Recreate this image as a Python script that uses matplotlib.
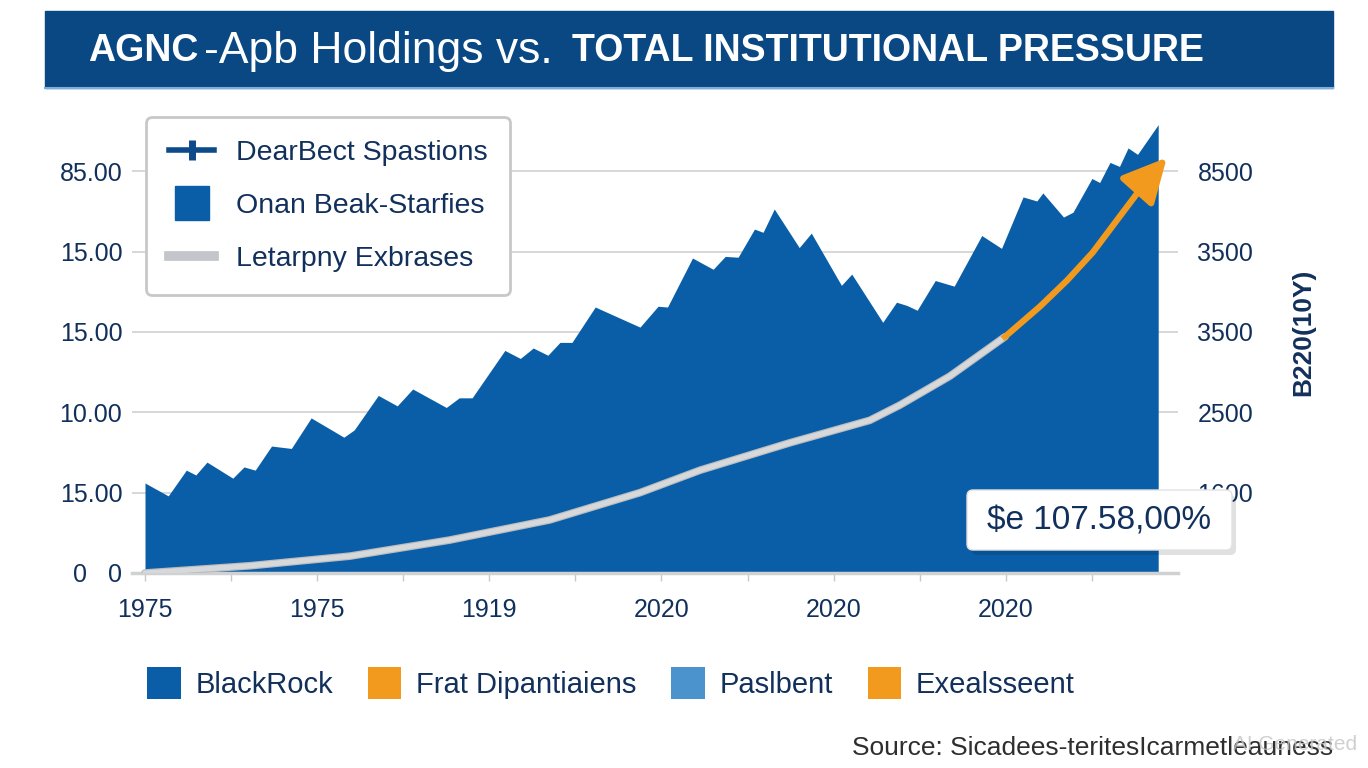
import numpy as np
import matplotlib.pyplot as plt
from matplotlib.lines import Line2D
from matplotlib.patches import Patch, Rectangle, FancyBboxPatch
from matplotlib.transforms import IdentityTransform

plt.rcParams['font.family'] = ['Liberation Sans', 'DejaVu Sans']

# holdings area (x = period index, y = gridline units)
area_x = [0.00, 0.27, 0.48, 0.59, 0.72, 1.02, 1.15, 1.28, 1.47, 1.70, 1.93, 2.31, 2.43,
          2.71, 2.93, 3.11, 3.50, 3.65, 3.80, 4.18, 4.36, 4.51, 4.68, 4.82, 4.96, 5.23,
          5.75, 5.96, 6.07, 6.36, 6.60, 6.74, 6.89, 7.08, 7.18, 7.31, 7.60, 7.74, 8.09,
          8.21, 8.57, 8.73, 8.85, 8.97, 9.18, 9.40, 9.72, 9.95, 10.20, 10.36, 10.43,
          10.67, 10.78, 11.00, 11.09, 11.21, 11.32, 11.42, 11.53, 11.77]
area_y = [1.12, 0.96, 1.28, 1.22, 1.38, 1.18, 1.32, 1.28, 1.58, 1.55, 1.93, 1.69, 1.78,
          2.21, 2.08, 2.29, 2.06, 2.18, 2.18, 2.77, 2.67, 2.80, 2.71, 2.87, 2.87, 3.31,
          3.06, 3.32, 3.31, 3.92, 3.78, 3.94, 3.93, 4.28, 4.24, 4.53, 4.05, 4.23, 3.58,
          3.72, 3.12, 3.37, 3.33, 3.27, 3.64, 3.57, 4.20, 4.04, 4.68, 4.63, 4.73,
          4.43, 4.49, 4.91, 4.86, 5.11, 5.06, 5.29, 5.21, 5.58]

# pressure curve (grey part, then orange surge)
trend_x = [0.00, 1.22, 2.38, 3.54, 4.70, 5.75, 6.45, 7.49, 8.42, 8.77, 9.35, 9.99]
trend_y = [0.00, 0.09, 0.21, 0.41, 0.66, 1.00, 1.28, 1.62, 1.90, 2.09, 2.45, 2.94]
surge_x = [9.99, 10.40, 10.71, 11.01, 11.29, 11.67]
surge_y = [2.94, 3.32, 3.64, 3.99, 4.39, 4.93]
surge_tip = (11.87, 5.17)

y_ticks = [0, 1, 2, 3, 4, 5]
left_labels = ["0   0", "15.00", "10.00", "15.00", "15.00", "85.00"]
right_labels = ["", "1600", "2500", "3500", "3500", "8500"]
x_ticks = list(range(12))
x_labels = ["1975", "", "1975", "", "1919", "", "2020", "", "2020", "", "2020", ""]

legend_labels = ["DearBect Spastions", "Onan Beak-Starfies", "Letarpny Exbrases"]
bottom_labels = ["BlackRock", "Frat Dipantiaiens", "Paslbent", "Exealsseent"]
bottom_colors = ["#0a5ea8", "#f29a1e", "#4a93cc", "#f29a1e"]

title_a = "AGNC"
title_b = "-Apb Holdings vs."
title_c = "TOTAL INSTITUTIONAL PRESSURE"
callout = "$e 107.58,00%"
right_title = "B220(10Y)"
source = "Source: Sicadees-teritesIcarmetleauness"

BLUE = "#0a5ea8"
NAVY = "#12305c"
GREY = "#d6d8da"
ORANGE = "#f29a1e"

W, H = 1368, 768
fig = plt.figure(figsize=(W / 100, H / 100), dpi=100)


def fx(px):
    return px / W


def fy(py):
    return 1 - py / H


# banner
fig.patches.append(Rectangle((fx(45), fy(88)), fx(1333) - fx(45), fy(11) - fy(88),
                             transform=fig.transFigure, color="#0a4884", zorder=1))
fig.lines.append(Line2D([fx(45), fx(1333)], [fy(88), fy(88)], transform=fig.transFigure,
                        color="#7aaedc", lw=1.5, zorder=2))
fig.text(fx(88), fy(51), title_a, color="white", size=27, weight="bold", va="center")
fig.text(fx(204), fy(51), title_b, color="white", size=32, va="center")
fig.text(fx(572), fy(51), title_c, color="white", size=27, weight="bold", va="center")

# main axes
ax = fig.add_axes([fx(132), fy(573), fx(1178) - fx(132), fy(115) - fy(573)])
ax.set_xlim(-0.151, 12.0)
ax.set_ylim(0, 5.70)
ax.set_axisbelow(True)
ax.grid(axis="y", color="#d4d4d4", lw=1.3)
ax.fill_between(area_x, area_y, 0, color=BLUE, lw=0, zorder=2)
ax.plot(trend_x, trend_y, color="#b9bcc0", lw=5.5, solid_capstyle="round", zorder=3)
ax.plot(trend_x, trend_y, color=GREY, lw=3.8, solid_capstyle="round", zorder=3)
ax.plot(surge_x, surge_y, color=ORANGE, lw=4.5, zorder=4)
ax.annotate("", xy=surge_tip, xytext=(surge_x[-1], surge_y[-1]),
            arrowprops=dict(arrowstyle="-|>,head_length=0.9,head_width=0.45",
                            color=ORANGE, lw=4.5, mutation_scale=30, shrinkA=0, shrinkB=0),
            zorder=5)

for s in ["top", "left", "right"]:
    ax.spines[s].set_visible(False)
ax.spines["bottom"].set_color("#cfd1d3")
ax.spines["bottom"].set_linewidth(2.5)
ax.set_xticks(x_ticks)
ax.set_xticklabels(x_labels)
ax.set_yticks(y_ticks)
ax.set_yticklabels(left_labels)
ax.tick_params(axis="x", length=6, width=1, color="#c8c8c8", pad=12,
               labelsize=18, labelcolor=NAVY)
ax.tick_params(axis="y", length=0, pad=7, labelsize=18, labelcolor=NAVY)

ax2 = ax.twinx()
ax2.set_ylim(ax.get_ylim())
ax2.set_yticks(y_ticks)
ax2.set_yticklabels(right_labels)
ax2.tick_params(axis="y", length=0, pad=14, labelsize=18, labelcolor=NAVY)
for s in ax2.spines.values():
    s.set_visible(False)

# inner legend
handles = [
    Line2D([], [], color="#0c4a8a", lw=4, marker="|", ms=14, mew=5),
    Line2D([], [], color=BLUE, ls="", marker="s", ms=25),
    Line2D([], [], color="#c2c5c9", lw=7),
]
leg = ax.legend(handles, legend_labels, loc="upper left",
                bbox_to_anchor=(fx(146), fy(117)), bbox_transform=fig.transFigure,
                borderaxespad=0, fontsize=20.5, labelcolor=NAVY, frameon=True,
                fancybox=True, framealpha=1, edgecolor="#c8c8c8", borderpad=0.8,
                labelspacing=0.95, handlelength=1.6, handletextpad=0.75)
leg.get_frame().set_linewidth(2)
leg.set_zorder(10)

# callout
shadow = FancyBboxPatch((971, H - 555), 265, 60, boxstyle="round,pad=0,rounding_size=6",
                        transform=IdentityTransform(), color="#000000", alpha=0.12,
                        lw=0, zorder=5)
box = FancyBboxPatch((967, H - 550), 265, 60, boxstyle="round,pad=0,rounding_size=6",
                     transform=IdentityTransform(), facecolor="white",
                     edgecolor="#e2e2e2", lw=1, zorder=6)
fig.patches.extend([shadow, box])
fig.text(fx(1099), fy(521), callout, ha="center", va="center", size=24, color=NAVY,
         zorder=7)

fig.text(fx(1303), fy(332), right_title, rotation=90, ha="center", va="center",
         size=19, weight="bold", color=NAVY)

# bottom legend
patches = [Patch(facecolor=c, edgecolor="none") for c in bottom_colors]
fig.legend(patches, bottom_labels, loc="center left", bbox_to_anchor=(fx(147), fy(683)),
           ncol=4, frameon=False, fontsize=21, labelcolor=NAVY, borderaxespad=0,
           borderpad=0, handlelength=1.15, handleheight=1.3, handletextpad=0.5,
           columnspacing=1.2)

fig.text(fx(1333), fy(748), source, ha="right", va="center", size=19, color="#2e2e2e")
fig.text(fx(1357), fy(744), "AI Generated", ha="right", va="center", size=15,
         color="#c4c4c4", alpha=0.8)

fig.savefig("out.png", dpi=100)
